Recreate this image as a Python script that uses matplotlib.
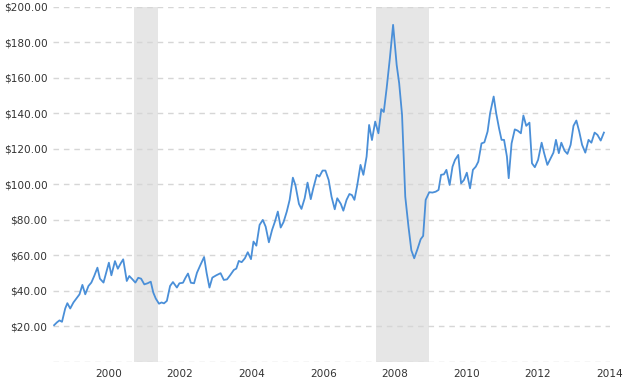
import numpy as np
import matplotlib
matplotlib.use("Agg")
import matplotlib.pyplot as plt

# Price series (decimal year, dollars)
years = [1998.48, 1998.56, 1998.63, 1998.70, 1998.79, 1998.85, 1998.93, 1999.02, 1999.11, 1999.19,
         1999.27, 1999.35, 1999.44, 1999.52, 1999.60, 1999.69, 1999.76, 1999.86, 1999.93, 2000.01,
         2000.08, 2000.18, 2000.26, 2000.34, 2000.41, 2000.51, 2000.58, 2000.67, 2000.75, 2000.83,
         2000.91, 2001.00, 2001.09, 2001.18, 2001.25, 2001.32, 2001.41, 2001.48, 2001.55, 2001.63,
         2001.72, 2001.80, 2001.91, 2001.98, 2002.08, 2002.15, 2002.22, 2002.30, 2002.39, 2002.47,
         2002.56, 2002.67, 2002.74, 2002.82, 2002.90, 2003.01, 2003.13, 2003.22, 2003.31, 2003.40,
         2003.50, 2003.57, 2003.64, 2003.72, 2003.81, 2003.89, 2003.98, 2004.05, 2004.13, 2004.22,
         2004.31, 2004.39, 2004.48, 2004.57, 2004.65, 2004.73, 2004.81, 2004.89, 2004.98, 2005.06,
         2005.15, 2005.22, 2005.32, 2005.39, 2005.48, 2005.56, 2005.65, 2005.72, 2005.82, 2005.89,
         2005.98, 2006.06, 2006.15, 2006.23, 2006.32, 2006.39, 2006.49, 2006.56, 2006.65, 2006.73,
         2006.80, 2006.87, 2006.95, 2007.04, 2007.12, 2007.21, 2007.28, 2007.36, 2007.45, 2007.54,
         2007.62, 2007.69, 2007.77, 2007.86, 2007.95, 2008.05, 2008.12, 2008.20, 2008.29, 2008.38,
         2008.46, 2008.54, 2008.63, 2008.72, 2008.79, 2008.86, 2008.96, 2009.05, 2009.14, 2009.22,
         2009.29, 2009.37, 2009.44, 2009.53, 2009.61, 2009.68, 2009.77, 2009.85, 2009.93, 2010.01,
         2010.10, 2010.18, 2010.26, 2010.33, 2010.42, 2010.50, 2010.59, 2010.66, 2010.76, 2010.83,
         2010.91, 2010.98, 2011.05, 2011.13, 2011.18, 2011.26, 2011.35, 2011.43, 2011.52, 2011.59,
         2011.67, 2011.76, 2011.83, 2011.91, 2012.00, 2012.10, 2012.17, 2012.26, 2012.33, 2012.43,
         2012.50, 2012.58, 2012.65, 2012.74, 2012.82, 2012.91, 2012.99, 2013.07, 2013.15, 2013.23,
         2013.32, 2013.41, 2013.49, 2013.58, 2013.66, 2013.75, 2013.84]

prices = [20.7, 22.3, 23.4, 22.6, 30.1, 33.1, 30.1, 33.5, 35.9, 38.1,
          43.4, 38.1, 42.8, 44.7, 48.4, 53.1, 46.9, 44.7, 49.9, 55.9,
          48.8, 56.8, 52.5, 55.5, 57.8, 45.6, 48.4, 46.5, 44.7, 47.4,
          46.9, 43.7, 44.3, 45.2, 39.1, 35.7, 32.8, 33.5, 33.0, 34.4,
          42.8, 45.0, 41.9, 44.3, 44.6, 47.4, 49.8, 44.6, 44.3, 50.2,
          54.3, 59.1, 50.2, 41.9, 47.5, 48.8, 50.0, 46.2, 46.5, 48.9,
          51.8, 52.6, 56.9, 56.2, 58.4, 61.8, 57.9, 67.8, 65.5, 77.2,
          80.0, 76.2, 67.4, 74.4, 79.1, 84.7, 75.7, 78.8, 84.7, 91.3,
          103.8, 99.7, 89.0, 86.2, 92.2, 101.0, 91.7, 97.8, 105.4, 104.4,
          107.8, 107.8, 102.5, 93.1, 86.0, 92.2, 89.0, 85.2, 91.3, 94.6,
          94.0, 91.3, 99.7, 111.0, 105.4, 115.7, 133.5, 125.0, 135.4, 128.8,
          142.4, 140.8, 154.2, 171.1, 189.9, 167.3, 157.0, 139.2, 93.1, 76.2,
          62.9, 58.4, 63.5, 69.1, 71.0, 91.3, 95.6, 95.4, 95.9, 96.9,
          105.4, 105.7, 108.2, 99.7, 110.0, 113.8, 116.6, 100.6, 102.5, 106.6,
          97.8, 108.2, 110.0, 112.8, 123.1, 123.7, 129.8, 140.1, 149.5, 140.1,
          131.6, 125.1, 125.1, 115.7, 103.5, 123.1, 131.0, 130.3, 128.8, 138.8,
          133.0, 134.8, 111.9, 109.7, 113.8, 123.5, 117.6, 111.0, 113.8, 117.9,
          125.1, 117.6, 123.5, 119.0, 117.2, 122.3, 133.0, 136.0, 129.8, 122.3,
          117.9, 125.1, 123.5, 129.2, 127.9, 124.7, 129.2]

# Recession periods (shaded)
recessions = [(2000.71, 2001.38), (2007.48, 2008.96)]

x_ticks = [2000, 2002, 2004, 2006, 2008, 2010, 2012, 2014]
y_ticks = [0, 20, 40, 60, 80, 100, 120, 140, 160, 180, 200]

fig = plt.figure(figsize=(6.24, 3.83), dpi=100)
ax = fig.add_axes([0.085, 0.055, 0.892, 0.927])

for start, end in recessions:
    ax.axvspan(start, end, color="#e6e6e6", lw=0, zorder=0)

ax.plot(years, prices, color="#4a8fd8", lw=1.3, zorder=3)

ax.set_xlim(1998.45, 2014.0)
ax.set_ylim(0, 200)
ax.set_xticks(x_ticks)
ax.set_xticklabels([str(y) for y in x_ticks])
ax.set_yticks(y_ticks)
ax.set_yticklabels(["" if v == 0 else "${:.2f}".format(v) for v in y_ticks])

ax.yaxis.grid(True, color="#d6d6d6", linestyle=(0, (4, 3.5)), lw=1, zorder=1)
ax.xaxis.grid(False)
ax.set_axisbelow(True)

for s in ax.spines.values():
    s.set_visible(False)
ax.tick_params(axis="both", length=0, labelsize=7.6, colors="#333333")
ax.tick_params(axis="y", pad=4)
ax.tick_params(axis="x", pad=5)

fig.savefig("out.png", dpi=100)
